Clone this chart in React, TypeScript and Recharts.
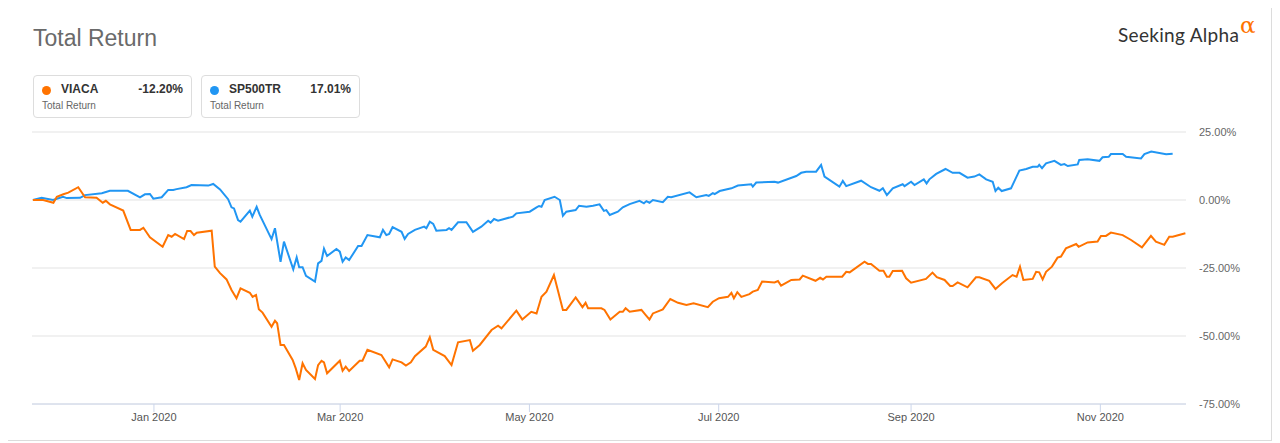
import React from 'react';
import { LineChart, Line, XAxis, YAxis, CartesianGrid } from 'recharts';

// day = days since 1 Jan 2020, value = total return in %
const viaca: [number, number][] = [
  [-39.0, 0], [-35.7, 0], [-32.4, -1.0], [-31.3, 1.2], [-29.2, 2.1], [-27.6, 2.7], [-24.4, 4.7],
  [-22.2, 1.0], [-18.5, 0.8], [-16.5, -1.0], [-15.5, -0.3], [-14.2, -1.6], [-9.9, -3.9], [-7.5, -11.0],
  [-4.5, -11.0], [-3.4, -10.2], [-1.3, -13.7], [2.8, -17.2], [4.6, -12.9], [5.7, -13.5], [6.8, -12.5],
  [9.7, -14.4], [10.7, -11.4], [11.8, -11.4], [12.9, -12.9], [13.8, -12.0], [18.6, -11.3], [19.6, -24.5],
  [21.3, -26.9], [23.4, -29.2], [25.0, -33.1], [26.6, -36.1], [27.9, -32.5], [30.9, -34.1], [31.8, -35.6],
  [32.9, -34.9], [33.8, -40.2], [35.0, -41.4], [37.9, -46.6], [39.0, -44.4], [39.7, -45.3], [40.8, -53.3],
  [41.9, -53.3], [44.7, -58.8], [45.7, -61.9], [46.8, -66.2], [47.9, -60.0], [49.0, -62.5], [51.9, -65.8],
  [52.9, -60.7], [54.0, -59.1], [54.8, -59.7], [55.8, -63.7], [59.9, -59.1], [60.8, -62.8], [61.8, -61.3],
  [62.9, -62.9], [66.3, -59.1], [67.2, -59.1], [68.8, -55.1], [73.3, -57.0], [75.8, -61.5], [76.9, -58.6],
  [79.8, -59.7], [81.2, -60.9], [82.8, -59.7], [84.1, -57.4], [87.6, -53.9], [88.9, -50.5], [90.0, -55.1],
  [93.7, -57.4], [95.9, -60.7], [98.0, -52.3], [101.8, -51.5], [102.8, -55.4], [105.0, -53.3], [108.8, -47.8],
  [110.9, -46.2], [112.0, -47.2], [116.8, -40.7], [118.7, -43.9], [121.6, -41.1], [123.3, -41.7], [124.9, -35.6],
  [126.5, -33.7], [128.9, -27.6], [131.8, -40.4], [132.9, -40.4], [135.9, -35.8], [138.1, -39.4], [139.1, -37.8],
  [139.9, -39.8], [144.2, -39.8], [145.2, -40.4], [147.1, -43.9], [150.1, -41.1], [151.1, -41.1], [152.0, -39.8],
  [153.3, -41.1], [157.1, -40.4], [158.5, -42.3], [159.7, -43.9], [160.8, -41.7], [164.0, -40.2], [166.4, -36.4],
  [168.9, -37.8], [171.6, -38.6], [173.9, -38.0], [178.5, -39.4], [180.1, -37.4], [182.1, -36.1], [185.0, -35.6],
  [186.1, -34.1], [186.9, -36.1], [188.0, -33.9], [189.3, -35.6], [191.9, -34.6], [193.0, -33.7], [194.6, -33.1],
  [196.0, -30.0], [200.0, -30.3], [201.1, -29.8], [202.1, -31.5], [205.4, -29.4], [208.1, -29.2], [209.1, -27.8],
  [213.2, -29.7], [214.7, -28.6], [215.6, -29.2], [216.7, -28.2], [221.8, -28.2], [223.1, -26.4], [224.2, -26.6],
  [229.0, -22.7], [230.1, -23.5], [231.1, -23.5], [233.8, -26.0], [235.1, -26.0], [236.2, -28.2], [237.0, -28.2],
  [238.1, -26.1], [241.1, -26.0], [242.4, -28.8], [244.0, -30.4], [248.8, -29.0], [250.9, -26.7], [252.3, -28.4],
  [254.8, -29.4], [256.6, -31.6], [257.4, -31.6], [259.0, -30.3], [262.2, -32.1], [264.9, -28.4], [266.0, -28.4],
  [269.2, -29.7], [271.2, -32.7], [273.3, -30.6], [276.7, -27.6], [278.0, -28.2], [279.1, -24.5], [280.2, -29.4],
  [283.2, -29.0], [284.3, -26.4], [285.3, -26.6], [286.4, -29.2], [287.5, -26.4], [289.4, -24.5], [291.2, -21.2],
  [292.3, -20.8], [293.9, -17.8], [297.2, -16.2], [298.0, -17.2], [300.9, -15.6], [304.1, -15.3], [305.2, -13.2],
  [306.8, -13.2], [308.4, -12.0], [312.2, -12.9], [314.9, -14.7], [318.4, -17.4], [321.3, -13.2], [322.9, -15.3],
  [325.6, -16.5], [327.2, -13.5], [328.3, -13.5], [332.4, -12.2],
];

const sp500tr: [number, number][] = [
  [-39.0, 0], [-36.2, 0.8], [-32.5, 0], [-29.3, 1.2], [-28.1, 0.7], [-23.8, 0.8], [-22.2, 1.8],
  [-16.8, 2.5], [-14.2, 3.4], [-8.4, 3.4], [-4.5, 1.0], [-2.9, 2.1], [-1.3, 2.2], [-0.2, 0.5],
  [2.5, 1.0], [4.6, 3.7], [6.2, 3.7], [7.3, 4.0], [10.5, 4.7], [12.1, 5.5], [17.5, 5.3], [19.1, 5.9],
  [21.3, 3.9], [23.9, 0.3], [25.0, -2.7], [25.8, -3.1], [27.1, -7.4], [27.9, -8.0], [30.9, -3.9],
  [31.7, -6.1], [33.1, -2.5], [34.1, -5.5], [37.9, -14.4], [39.0, -10.4], [40.8, -22.7], [41.9, -15.3],
  [44.9, -25.5], [46.0, -21.1], [46.8, -24.7], [47.9, -24.7], [49.0, -27.9], [51.9, -30.0], [52.9, -23.3],
  [54.0, -22.4], [54.8, -17.9], [55.8, -20.6], [58.8, -18.0], [59.9, -19.0], [60.8, -22.7], [61.8, -21.1],
  [62.9, -22.1], [65.8, -16.9], [66.9, -16.9], [68.8, -12.9], [72.8, -13.7], [73.8, -11.0], [74.9, -12.9],
  [75.8, -12.5], [76.9, -10.0], [79.8, -11.7], [80.8, -14.3], [81.9, -12.5], [84.1, -11.0], [87.1, -9.8],
  [87.8, -10.4], [88.9, -8.0], [90.0, -8.8], [91.0, -11.3], [94.3, -11.0], [95.1, -10.4], [95.9, -11.0],
  [98.0, -8.2], [100.7, -8.2], [102.8, -11.7], [105.5, -9.8], [107.7, -7.6], [108.5, -8.3], [109.6, -7.0],
  [110.9, -7.6], [115.7, -6.1], [116.8, -4.9], [121.1, -4.3], [123.3, -2.7], [124.1, -2.2], [124.9, -2.5],
  [125.9, 0], [129.1, 1.2], [130.8, 0], [131.8, -5.8], [132.9, -4.3], [135.9, -3.7], [137.0, -2.1],
  [139.4, -2.5], [141.5, -2.1], [143.6, -1.6], [145.0, -4.0], [145.8, -3.7], [146.9, -5.5], [149.5, -4.3],
  [151.1, -2.7], [153.3, -1.5], [156.5, -0.3], [157.9, -1.2], [158.7, -0.4], [159.7, -1.0], [160.8, 0],
  [164.0, -0.8], [165.6, 1.2], [166.7, 1.0], [172.6, 2.8], [174.8, 1.0], [178.0, 1.8], [178.8, 1.5],
  [180.1, 2.5], [180.7, 2.2], [182.3, 3.3], [186.1, 4.3], [188.2, 5.3], [192.5, 5.8], [193.0, 4.9],
  [194.1, 6.4], [200.0, 6.7], [201.1, 6.4], [207.0, 8.8], [208.6, 10.0], [210.2, 10.4], [213.4, 10.4],
  [215.0, 12.9], [216.1, 8.6], [220.9, 4.9], [222.0, 7.0], [223.1, 5.1], [227.9, 7.1], [231.1, 4.7],
  [233.8, 3.4], [234.9, 4.3], [236.2, 1.8], [238.1, 4.3], [241.3, 5.8], [241.9, 5.1], [244.0, 6.7],
  [245.1, 5.5], [248.1, 7.6], [249.0, 6.1], [249.9, 7.6], [252.1, 9.6], [255.1, 11.4], [257.4, 10.0],
  [259.6, 10.0], [262.2, 8.2], [264.4, 8.6], [266.0, 9.4], [268.2, 7.6], [270.3, 6.7], [271.2, 3.3],
  [272.1, 4.5], [273.2, 3.3], [276.2, 4.3], [278.9, 10.8], [281.1, 11.4], [283.2, 12.2], [284.8, 12.2],
  [285.3, 12.9], [286.2, 11.7], [287.5, 13.5], [290.2, 14.4], [292.3, 12.9], [293.4, 13.2], [294.5, 12.5],
  [297.7, 13.1], [298.2, 14.7], [300.9, 15.0], [304.7, 14.4], [305.7, 15.7], [307.7, 15.9], [308.4, 16.9],
  [312.2, 16.9], [313.3, 15.9], [318.1, 15.3], [319.2, 16.9], [321.4, 17.8], [326.2, 16.8], [328.3, 17.0],
];

const monthTicks = [0, 60, 121, 182, 244, 305];
const monthLabels = ['Jan 2020', 'Mar 2020', 'May 2020', 'Jul 2020', 'Sep 2020', 'Nov 2020'];
const yTicks = [-75, -50, -25, 0, 25];

const legendItems = [
  { name: 'VIACA', value: '-12.20%', color: '#ff7300' },
  { name: 'SP500TR', value: '17.01%', color: '#2196f3' },
];

type Row = { day: number; viaca?: number; sp500tr?: number };

const buildRows = (): Row[] => {
  const map = new Map<number, Row>();
  viaca.forEach(([d, v]) => {
    const r = map.get(d) || { day: d };
    r.viaca = v;
    map.set(d, r);
  });
  sp500tr.forEach(([d, v]) => {
    const r = map.get(d) || { day: d };
    r.sp500tr = v;
    map.set(d, r);
  });
  return Array.from(map.values()).sort((a, b) => a.day - b.day);
};

const rows = buildRows();
const font = '"Liberation Sans", Arial, sans-serif';

export default function App() {
  return (
    <div style={{ position: 'relative', width: 1280, height: 443, margin: '-8px 0 0 -8px', fontFamily: font, background: '#fff' }}>
      <div style={{ position: 'absolute', left: 7, top: 1, width: 1265, height: 440, border: '1px solid #dcdcdc', boxSizing: 'border-box' }} />
      <div style={{ position: 'absolute', left: 33, top: 25, fontSize: 23, color: '#6a6a6a' }}>Total Return</div>
      <div style={{ position: 'absolute', left: 1118, top: 23, fontFamily: 'Lato, sans-serif', fontSize: 19, letterSpacing: 0.3, color: '#333' }}>
        Seeking Alpha
        <span style={{ position: 'absolute', left: 122, top: -11, color: '#ff7300', fontSize: 23, letterSpacing: 0, fontFamily: '"DejaVu Serif", serif' }}>α</span>
      </div>
      {legendItems.map((it, i) => (
        <div
          key={it.name}
          style={{
            position: 'absolute', left: 33 + i * 168, top: 75, width: 159, height: 43, boxSizing: 'border-box',
            border: '1px solid #dddddd', borderRadius: 4,
          }}
        >
          <span style={{ position: 'absolute', left: 8, top: 10, width: 9, height: 9, borderRadius: '50%', background: it.color }} />
          <span style={{ position: 'absolute', left: 27, top: 6, fontSize: 12, fontWeight: 'bold', color: '#333' }}>{it.name}</span>
          <span style={{ position: 'absolute', right: 8, top: 6, fontSize: 12, fontWeight: 'bold', color: '#333' }}>{it.value}</span>
          <span style={{ position: 'absolute', left: 8, top: 24, fontSize: 10, color: '#666' }}>Total Return</span>
        </div>
      ))}
      <div style={{ position: 'absolute', left: 0, top: 0 }}>
        <LineChart width={1280} height={443} data={rows} margin={{ top: 132, right: 14, bottom: 9, left: 32 }}>
          <CartesianGrid vertical={false} stroke="#e3e3e3" />
          <XAxis
            dataKey="day"
            type="number"
            domain={[-39.3, 332.6]}
            allowDataOverflow
            ticks={monthTicks}
            tickFormatter={(v: number) => monthLabels[monthTicks.indexOf(v)] || ''}
            height={30}
            stroke="#ccd6eb"
            tickSize={8}
            tickMargin={1}
            tick={{ fontSize: 11, fill: '#555', fontFamily: font }}
          />
          <YAxis
            orientation="right"
            type="number"
            domain={[-75, 25]}
            ticks={yTicks}
            width={80}
            axisLine={false}
            tickLine={false}
            tickMargin={7}
            tickFormatter={(v: number) => v.toFixed(2) + '%'}
            tick={{ fontSize: 11, fill: '#666', fontFamily: font }}
          />
          <Line type="linear" dataKey="sp500tr" stroke="#2196f3" strokeWidth={2} dot={false} connectNulls isAnimationActive={false} />
          <Line type="linear" dataKey="viaca" stroke="#ff7300" strokeWidth={2} dot={false} connectNulls isAnimationActive={false} />
        </LineChart>
      </div>
    </div>
  );
}
